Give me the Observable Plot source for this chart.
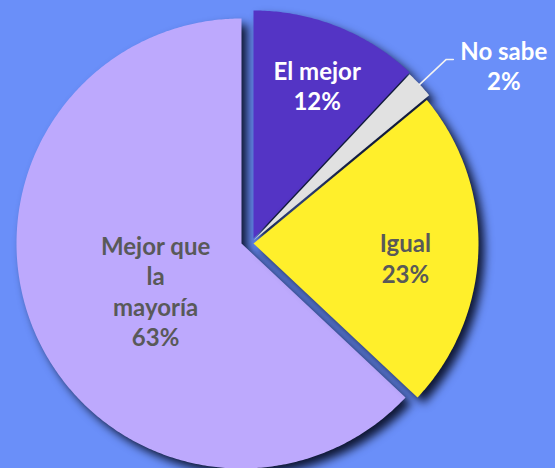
<!DOCTYPE html>
<html>
<head>
<meta charset="utf-8">
<script src="https://cdn.jsdelivr.net/npm/d3@7"></script>
<script src="https://cdn.jsdelivr.net/npm/@observablehq/plot@0.6"></script>
<style>
  html, body { margin: 0; padding: 0; background: #6A8FF9; }
  #chart svg { display: block; overflow: hidden; }
</style>
</head>
<body>
<div id="chart"></div>
<script>
// ---- data ----
const categories = ["El mejor", "No sabe", "Igual", "Mejor que la mayoría"];
const values = [12, 2, 23, 63];
const labelTexts = ["El mejor\n12%", "No sabe\n2%", "Igual\n23%", "Mejor que\nla\nmayoría\n63%"];
const sliceColors = ["#5434C5", "#E1E1E1", "#FFEF2B", "#BDA9FD"];
const labelColors = ["#FFFFFF", "#FFFFFF", "#595959", "#595959"];

// ---- layout (slice centres reflect Excel's exploded slices) ----
const W = 555, H = 468;
const centers = {
  "El mejor": [253, 238, 228],
  "No sabe": [253, 240, 228],
  "Igual": [253, 243, 225],
  "Mejor que la mayoría": [241, 243, 225]
};
// label placement: fraction of radius and angular nudge (degrees) from slice bisector
const labelPlace = {
  "El mejor": [0.727, 1],
  "No sabe": [1.34, 8.2],
  "Igual": [0.678, 3.5],
  "Mejor que la mayoría": [0.436, -5.5]
};

const rows = categories.map((c, i) => ({category: c, value: values[i], color: sliceColors[i], label: labelTexts[i], labelColor: labelColors[i]}));
const arcs = d3.pie().sort(null).value(d => d.value)(rows);

const pt = (cx, cy, r, a) => [cx + r * Math.sin(a), cy - r * Math.cos(a)];

const slicePolys = arcs.map(a => {
  const [cx, cy, r] = centers[a.data.category];
  const pts = [{x: cx, y: cy}];
  const n = Math.max(8, Math.ceil((a.endAngle - a.startAngle) / 0.01));
  for (let k = 0; k <= n; k++) {
    const ang = a.startAngle + (a.endAngle - a.startAngle) * k / n;
    const [x, y] = pt(cx, cy, r, ang);
    pts.push({x, y});
  }
  pts.push({x: cx, y: cy});
  return {arc: a, pts};
});

const labels = arcs.map(a => {
  const c = a.data.category;
  const [cx, cy, r] = centers[c];
  const [f, d] = labelPlace[c];
  const ang = (a.startAngle + a.endAngle) / 2 + d * Math.PI / 180;
  const [x, y] = pt(cx, cy, r * f, ang);
  return {x, y, text: a.data.label, fill: a.data.labelColor};
});

// leader line for "No sabe"
const ns = arcs[1];
const [ncx, ncy, nr] = centers["No sabe"];
const nsMid = (ns.startAngle + ns.endAngle) / 2;
const p0 = pt(ncx, ncy, nr * 1.0, nsMid);
const p1 = pt(ncx, ncy, nr * 1.16, nsMid);
const leader = [{x: p0[0], y: p0[1]}, {x: p1[0], y: p1[1]}, {x: p1[0] + 7, y: p1[1]}];

// draw the large slice first so the others sit above its shadow
const drawOrder = [3, 0, 1, 2];

const plot = Plot.plot({
  width: W,
  height: H,
  margin: 0,
  x: {type: "linear", domain: [0, W], range: [0, W], axis: null},
  y: {type: "linear", domain: [0, H], range: [0, H], axis: null},
  style: {background: "#6A8FF9", fontFamily: "Lato, 'Open Sans', sans-serif"},
  marks: [
    ...drawOrder.map(i => Plot.line(slicePolys[i].pts, {
      x: "x", y: "y", fill: slicePolys[i].arc.data.color, stroke: "none", curve: "linear",
      ariaDescription: "slice"
    })),
    Plot.line(leader, {x: "x", y: "y", stroke: "#F2F2F2", strokeWidth: 1.6, curve: "linear"}),
    Plot.text(labels, {
      x: "x", y: "y", text: "text", fill: "fill",
      fontSize: 24, fontWeight: "bold", lineHeight: 1.27, textAnchor: "middle", frameAnchor: "middle"
    })
  ]
});

// SVG drop-shadow filter
const NS = "http://www.w3.org/2000/svg";
const defs = document.createElementNS(NS, "defs");
defs.innerHTML = `<filter id="pieShadow" x="-20%" y="-20%" width="140%" height="140%" color-interpolation-filters="sRGB">
  <feGaussianBlur in="SourceAlpha" stdDeviation="5" result="b"/>
  <feOffset in="b" dx="6" dy="6" result="o"/>
  <feFlood flood-color="#0E1633" flood-opacity="1"/>
  <feComposite in2="o" operator="in" result="s"/>
  <feMerge><feMergeNode in="s"/><feMergeNode in="SourceGraphic"/></feMerge>
</filter>`;
plot.insertBefore(defs, plot.firstChild);

const gs = Array.from(plot.querySelectorAll("g")).filter(g => g.getAttribute("aria-description") === "slice");
gs.forEach(g => g.setAttribute("filter", "url(#pieShadow)"));

document.getElementById("chart").appendChild(plot);
</script>
</body>
</html>
